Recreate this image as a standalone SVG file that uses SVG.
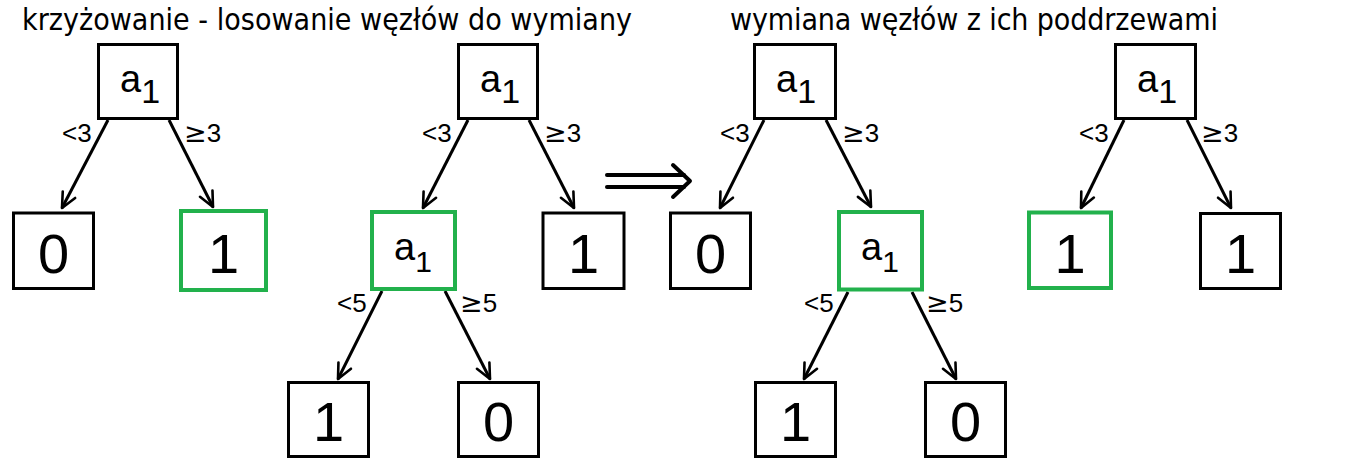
<svg xmlns="http://www.w3.org/2000/svg" width="1367" height="469" viewBox="0 0 1367 469">
<defs>
<marker id="ah" markerUnits="userSpaceOnUse" viewBox="-18 -10 20 20" markerWidth="20" markerHeight="20" refX="0" refY="0" orient="auto">
<path d="M-15,-7 L0,0 L-15,7" fill="none" stroke="#000" stroke-width="2.6" stroke-linecap="round" stroke-linejoin="round"/>
</marker>
<style>
.bx{fill:#fff;stroke:#000;stroke-width:3}
.gx{fill:#fff;stroke:#22b14c;stroke-width:4}
.ed{stroke:#000;stroke-width:3;fill:none;marker-end:url(#ah)}
.ttl{font-family:"DejaVu Sans Condensed","DejaVu Sans",sans-serif;font-size:30px;fill:#000}
.lb{font-family:"Liberation Sans",Arial,sans-serif;font-size:26px;fill:#000}
.ge{font-family:"DejaVu Sans",sans-serif;font-size:27px}
.dg{font-family:"Liberation Sans",Arial,sans-serif;font-size:56px;fill:#000;text-anchor:middle}
.va{font-family:"Liberation Sans",Arial,sans-serif;font-size:38px;fill:#000}
.vs{font-size:34px}
.vsg{font-size:30px}
</style>
</defs>
<rect width="1367" height="469" fill="#fff"/>
<text class="ttl" x="22" y="30" textLength="610">krzyżowanie - losowanie węzłów do wymiany</text>
<text class="ttl" x="730" y="30" textLength="488">wymiana węzłów z ich poddrzewami</text>

<g id="connectors">
<line class="ed" x1="108" y1="120" x2="62" y2="208"/>
<line class="ed" x1="169" y1="120" x2="213" y2="207"/>
<line class="ed" x1="468" y1="120" x2="423" y2="208"/>
<line class="ed" x1="529" y1="120" x2="574" y2="208"/>
<line class="ed" x1="382" y1="291" x2="338" y2="379"/>
<line class="ed" x1="445" y1="291" x2="490" y2="379"/>
<line class="ed" x1="764" y1="120" x2="720" y2="208"/>
<line class="ed" x1="826" y1="120" x2="871" y2="207"/>
<line class="ed" x1="848" y1="292" x2="804" y2="379"/>
<line class="ed" x1="912" y1="292" x2="956" y2="379"/>
<line class="ed" x1="1124" y1="120" x2="1081" y2="208"/>
<line class="ed" x1="1187" y1="120" x2="1231" y2="208"/>
</g>

<g id="edge-labels">
<text class="lb" x="62" y="142">&lt;3</text>
<text class="lb" x="184" y="142"><tspan class="ge">≥</tspan>3</text>
<text class="lb" x="422" y="142">&lt;3</text>
<text class="lb" x="544" y="142"><tspan class="ge">≥</tspan>3</text>
<text class="lb" x="337" y="312">&lt;5</text>
<text class="lb" x="460" y="312"><tspan class="ge">≥</tspan>5</text>
<text class="lb" x="720" y="142">&lt;3</text>
<text class="lb" x="842" y="142"><tspan class="ge">≥</tspan>3</text>
<text class="lb" x="804" y="312">&lt;5</text>
<text class="lb" x="926" y="312"><tspan class="ge">≥</tspan>5</text>
<text class="lb" x="1079" y="142">&lt;3</text>
<text class="lb" x="1201" y="142"><tspan class="ge">≥</tspan>3</text>
</g>

<g id="transform-arrow" fill="none" stroke="#000" stroke-width="4" stroke-linecap="round" stroke-linejoin="round">
<line x1="607" y1="175" x2="684" y2="175"/>
<line x1="607" y1="187" x2="684" y2="187"/>
<polyline points="673,165 690,181 673,197"/>
</g>

<!-- Tree 1 -->
<g id="t1-root"><rect class="bx" x="98.5" y="44.5" width="79" height="74"/><text class="va" x="120" y="92">a<tspan class="vs" dy="11">1</tspan></text></g>
<g id="t1-leaf0"><rect class="bx" x="13.5" y="213" width="80" height="75.5"/><text class="dg" x="53.5" y="273">0</text></g>
<g id="t1-leaf1"><rect class="gx" x="181" y="211" width="85" height="79"/><text class="dg" x="223.5" y="273">1</text></g>

<!-- Tree 2 -->
<g id="t2-root"><rect class="bx" x="458.5" y="44.5" width="79" height="74"/><text class="va" x="480" y="92">a<tspan class="vs" dy="11">1</tspan></text></g>
<g id="t2-mid"><rect class="gx" x="372" y="212" width="83" height="77"/><text class="va" x="394" y="260" font-size="36">a<tspan class="vsg" dy="12">1</tspan></text></g>
<g id="t2-leaf1"><rect class="bx" x="543" y="213" width="81" height="75.5"/><text class="dg" x="583.5" y="273">1</text></g>
<g id="t2-bl1"><rect class="bx" x="288.5" y="382.5" width="80" height="74"/><text class="dg" x="328.5" y="441">1</text></g>
<g id="t2-bl0"><rect class="bx" x="458.5" y="382.5" width="80" height="74"/><text class="dg" x="498.5" y="441">0</text></g>

<!-- Tree 3 -->
<g id="t3-root"><rect class="bx" x="754.5" y="44.5" width="81" height="74"/><text class="va" x="776" y="92">a<tspan class="vs" dy="11">1</tspan></text></g>
<g id="t3-leaf0"><rect class="bx" x="670.5" y="213" width="80" height="75.5"/><text class="dg" x="710.5" y="273">0</text></g>
<g id="t3-mid"><rect class="gx" x="839" y="212" width="83" height="77.5"/><text class="va" x="861" y="260" font-size="36">a<tspan class="vsg" dy="12">1</tspan></text></g>
<g id="t3-bl1"><rect class="bx" x="755.5" y="382.5" width="80" height="74"/><text class="dg" x="795.5" y="441">1</text></g>
<g id="t3-bl0"><rect class="bx" x="925.5" y="382.5" width="80" height="74"/><text class="dg" x="965.5" y="441">0</text></g>

<!-- Tree 4 -->
<g id="t4-root"><rect class="bx" x="1115.5" y="44.5" width="80" height="74"/><text class="va" x="1137" y="92">a<tspan class="vs" dy="11">1</tspan></text></g>
<g id="t4-leaf1g"><rect class="gx" x="1029" y="212.5" width="82" height="75.5"/><text class="dg" x="1070" y="273">1</text></g>
<g id="t4-leaf1"><rect class="bx" x="1200.5" y="213.5" width="80" height="75"/><text class="dg" x="1240.5" y="273">1</text></g>
</svg>
